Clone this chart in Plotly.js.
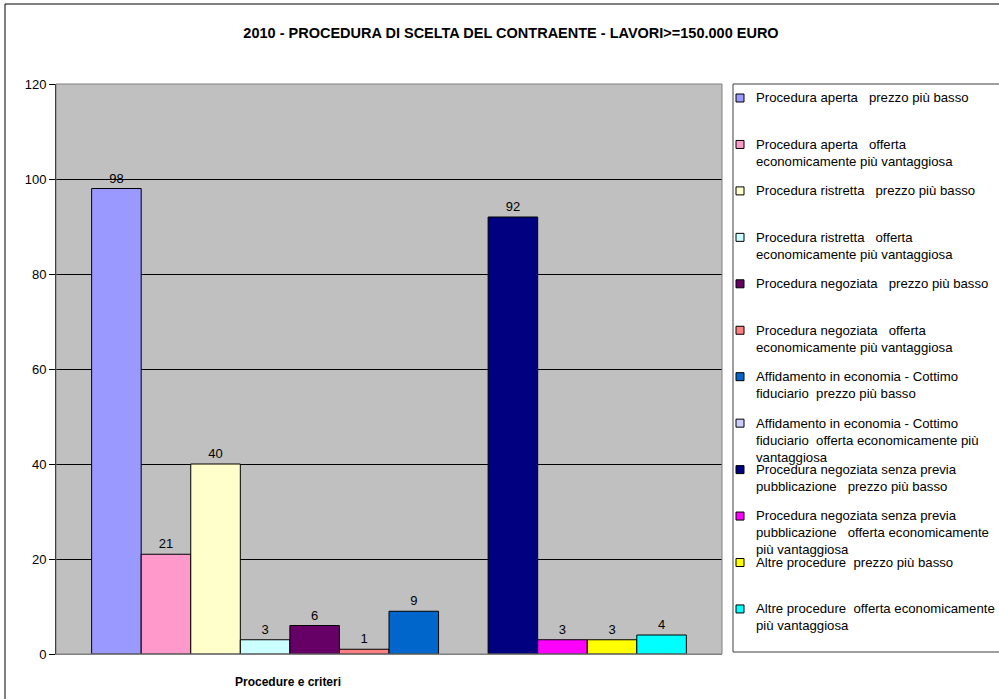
<!DOCTYPE html>
<html>
<head>
<meta charset="utf-8">
<script src="https://cdn.plot.ly/plotly-3.0.1.min.js"></script>
<style>
  html, body { margin: 0; padding: 0; background: #ffffff; }
  #chart { width: 999px; height: 699px; }
</style>
</head>
<body>
<div id="chart"></div>
<script>
// ---- Data ----
var category = [""];
var seriesNames = [
  "Procedura aperta \u00a0 prezzo più basso",
  "Procedura aperta \u00a0 offerta<br>economicamente più vantaggiosa",
  "Procedura ristretta \u00a0 prezzo più basso",
  "Procedura ristretta \u00a0 offerta<br>economicamente più vantaggiosa",
  "Procedura negoziata \u00a0 prezzo più basso",
  "Procedura negoziata \u00a0 offerta<br>economicamente più vantaggiosa",
  "Affidamento in economia - Cottimo<br>fiduciario \u00a0prezzo più basso",
  "Affidamento in economia - Cottimo<br>fiduciario \u00a0offerta economicamente più<br>vantaggiosa",
  "Procedura negoziata senza previa<br>pubblicazione \u00a0 prezzo più basso",
  "Procedura negoziata senza previa<br>pubblicazione \u00a0 offerta economicamente<br>più vantaggiosa",
  "Altre procedure \u00a0prezzo più basso",
  "Altre procedure \u00a0offerta economicamente<br>più vantaggiosa"
];
var seriesValues = [98, 21, 40, 3, 6, 1, 9, null, 92, 3, 3, 4];
var seriesColors = [
  "#9999FF", "#FF99CC", "#FFFFCC", "#CCFFFF", "#660066", "#FF8080",
  "#0066CC", "#CCCCFF", "#000080", "#FF00FF", "#FFFF00", "#00FFFF"
];
var yTickVals = [0, 20, 40, 60, 80, 100, 120];

// ---- Geometry (pixels) ----
var W = 999, H = 699;
var mL = 56, mR = 277, mT = 84, mB = 45;
var pw = W - mL - mR, ph = H - mT - mB;
function px2x(px) { return (px - mL) / pw; }
function px2y(py) { return (H - mB - py) / ph; }

var FONT = "Liberation Sans, Arial, sans-serif";

var traces = seriesValues.map(function (v, i) {
  return {
    type: "bar",
    x: category,
    y: [v],
    name: seriesNames[i],
    text: v === null ? [""] : [String(v)],
    textposition: "outside",
    textfont: { family: FONT, size: 13, color: "#000000" },
    cliponaxis: false,
    marker: { color: seriesColors[i], line: { color: "#000000", width: 1 } },
    showlegend: false,
    hoverinfo: "skip"
  };
});

// ---- Custom legend (Excel-style fixed slots) ----
var shapes = [];
var annotations = [];

// outer chart frame
shapes.push({
  type: "rect", xref: "paper", yref: "paper",
  x0: px2x(5), x1: px2x(1200), y0: px2y(800), y1: px2y(4),
  line: { color: "#000000", width: 1 }, fillcolor: "rgba(0,0,0,0)", layer: "below"
});
// plot area border
shapes.push({
  type: "rect", xref: "paper", yref: "paper",
  x0: 0, x1: 1, y0: 0, y1: 1,
  line: { color: "#808080", width: 1 }, fillcolor: "rgba(0,0,0,0)", layer: "above"
});
// legend box
shapes.push({
  type: "rect", xref: "paper", yref: "paper",
  x0: px2x(733), x1: px2x(1200), y0: px2y(652), y1: px2y(84),
  line: { color: "#404040", width: 1 }, fillcolor: "#ffffff", layer: "below"
});

var slotTop = 98, slotStep = 46.45, fs = 13.2;
seriesNames.forEach(function (nm, i) {
  var cy = slotTop + i * slotStep;
  shapes.push({
    type: "rect", xref: "paper", yref: "paper",
    x0: px2x(736), x1: px2x(744), y0: px2y(cy + 4), y1: px2y(cy - 4),
    line: { color: "#000000", width: 1 }, fillcolor: seriesColors[i], layer: "above"
  });
  annotations.push({
    xref: "paper", yref: "paper",
    x: px2x(754), y: px2y(cy - fs * 1.3 / 2 - 1),
    xanchor: "left", yanchor: "top", align: "left",
    text: nm, showarrow: false,
    font: { family: FONT, size: fs, color: "#000000" }
  });
});

// x-axis title (Excel places it off-centre)
annotations.push({
  xref: "paper", yref: "paper",
  x: px2x(288), y: px2y(682),
  xanchor: "center", yanchor: "middle",
  text: "<b>Procedure e criteri</b>", showarrow: false,
  font: { family: FONT, size: 12, color: "#000000" }
});

var layout = {
  width: W, height: H,
  margin: { l: mL, r: mR, t: mT, b: mB, pad: 0 },
  paper_bgcolor: "#ffffff",
  plot_bgcolor: "#C0C0C0",
  barmode: "group",
  bargap: 0.107,
  bargroupgap: 0,
  showlegend: false,
  title: {
    text: "<b>2010 - PROCEDURA DI SCELTA DEL CONTRAENTE - LAVORI>=150.000 EURO</b>",
    xref: "paper", x: px2x(511), xanchor: "center",
    yref: "container", y: 1 - 33 / H, yanchor: "middle",
    font: { family: FONT, size: 14.5, color: "#000000" }
  },
  xaxis: {
    type: "category",
    showticklabels: false,
    ticks: "",
    showgrid: false,
    showline: true, linecolor: "#808080", linewidth: 1,
    zeroline: false,
    fixedrange: true
  },
  yaxis: {
    range: [0, 120],
    tickvals: yTickVals,
    ticktext: yTickVals.map(String),
    ticks: "outside", ticklen: 6, tickcolor: "#000000", tickwidth: 1,
    showline: true, linecolor: "#000000", linewidth: 1,
    showgrid: true, gridcolor: "#000000", gridwidth: 1,
    zeroline: false,
    tickfont: { family: FONT, size: 13, color: "#000000" },
    fixedrange: true
  },
  shapes: shapes,
  annotations: annotations,
  font: { family: FONT, color: "#000000" }
};

Plotly.newPlot("chart", traces, layout, { displayModeBar: false, staticPlot: true });
</script>
</body>
</html>
